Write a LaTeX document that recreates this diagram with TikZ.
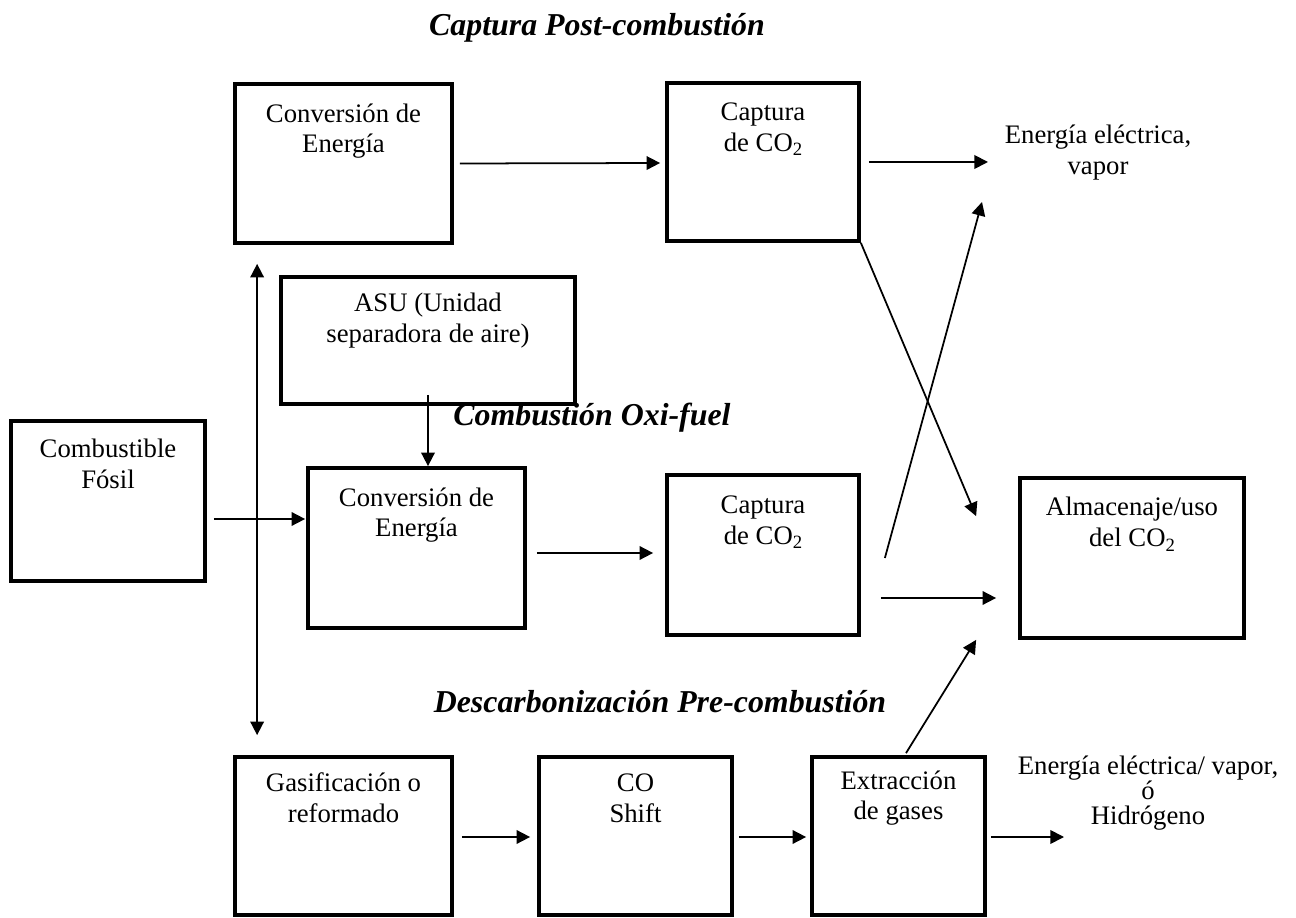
\documentclass[tikz,border=0pt]{standalone}
\usepackage{fontspec}
\setmainfont{Liberation Serif}
\usetikzlibrary{arrows.meta,positioning}
\newcommand{\subtwo}{\raisebox{-0.35ex}{\fontsize{8}{8}\selectfont 2}}

\begin{document}
\begin{tikzpicture}[x=0.015cm, y=-0.015cm, >={Triangle[length=5.8pt,width=5.8pt]},
  blk/.style={draw, line width=1.6pt, inner sep=0pt},
  txt/.style={align=center, font=\fontsize{11.4}{13.2}\selectfont},
  ttl/.style={font=\fontsize{13.6}{16}\selectfont\bfseries\itshape},
  flow/.style={->, line width=0.75pt}]
%%
  \useasboundingbox (0,0) rectangle (1296,918);
  \node (convTop) at (343.5,163.5) [blk, minimum width=3.255cm, minimum height=2.385cm] {};
  \node (capTop) at (763,162) [blk, minimum width=2.88cm, minimum height=2.37cm] {};
  \node (asu) at (428,340.5) [blk, minimum width=4.41cm, minimum height=1.905cm] {};
  \node (comb) at (108,501) [blk, minimum width=2.91cm, minimum height=2.4cm] {};
  \node (convMid) at (416.5,548) [blk, minimum width=3.255cm, minimum height=2.4cm] {};
  \node (capMid) at (763,555) [blk, minimum width=2.88cm, minimum height=2.4cm] {};
  \node (alm) at (1132,558) [blk, minimum width=3.36cm, minimum height=2.4cm] {};
  \node (gasif) at (343.5,836) [blk, minimum width=3.255cm, minimum height=2.37cm] {};
  \node (coShift) at (635.5,836) [blk, minimum width=2.895cm, minimum height=2.37cm] {};
  \node (extr) at (898.5,836) [blk, minimum width=2.595cm, minimum height=2.37cm] {};
  \node (convTopTxt) at ([shift={(0,49)}]convTop.north) [txt] {Conversión de\\Energía};
  \node (capTopTxt) at ([shift={(0,48)}]capTop.north) [txt] {Captura\\de CO\subtwo};
  \node (asuTxt) at ([shift={(0,45)}]asu.north) [txt] {ASU (Unidad\\separadora de aire)};
  \node (combTxt) at ([shift={(0,45)}]comb.north) [txt] {Combustible\\Fósil};
  \node (convMidTxt) at ([shift={(0,49)}]convMid.north) [txt] {Conversión de\\Energía};
  \node (capMidTxt) at ([shift={(0,49)}]capMid.north) [txt] {Captura\\de CO\subtwo};
  \node (almTxt) at ([shift={(0,48)}]alm.north) [txt] {Almacenaje/uso\\del CO\subtwo};
  \node (gasifTxt) at ([shift={(0,43)}]gasif.north) [txt] {Gasificación o\\reformado};
  \node (coShiftTxt) at ([shift={(0,43)}]coShift.north) [txt] {CO\\Shift};
  \node (extrTxt) at ([shift={(0,43)}]extr.north) [txt] {Extracción\\de gases};
  \node (out1) at (1098,153) [txt] {Energía eléctrica,\\vapor};
  \node (out2) at (1148,793) [txt, font=\fontsize{11.4}{10.8}\selectfont] {Energía eléctrica/ vapor,\\ó\\Hidrógeno};
  \coordinate (out1in) at (988,162);
  \coordinate (out2in) at (1064,837);
  \node (postTtl) at (597,28) [ttl] {Captura Post-combustión};
  \node (oxiTtl) at (592,418) [ttl] {Combustión Oxi-fuel};
  \node (preTtl) at (660,702) [ttl] {Descarbonización Pre-combustión};
  \draw [flow] ([shift={(6,0)}]convTop.east) -- ([shift={(-5,1)}]capTop.west);
  \draw [flow] ([shift={(8,0)}]capTop.east) -- (out1in);
  \draw [flow] (capTop.south east) -- ([shift={(-42,40)}]alm.north west);
  \draw [flow] ([shift={(24,3)}]capMid.east) -- ([shift={(-6,40)}]out1in);
  \draw [flow] ([shift={(20,43)}]capMid.east) -- ([shift={(-22,40)}]alm.west);
  \draw [flow] ([shift={(10,5)}]convMid.east) -- ([shift={(-12,-2)}]capMid.west);
  \draw [flow] ([shift={(7,18)}]comb.east) -- ([shift={(-1,-29)}]convMid.west);
  \draw [flow, <->] ([shift={(24,19)}]convTop.south west) -- ([shift={(24,-20)}]gasif.north west);
  \draw [flow] ([shift={(0,-11)}]asu.south) -- (asu.south |- convMid.north);
  \draw [flow] ([shift={(8,1)}]gasif.east) -- ([shift={(-7,1)}]coShift.west);
  \draw [flow] ([shift={(5,1)}]coShift.east) -- ([shift={(-4,1)}]extr.west);
  \draw [flow] ([shift={(4,1)}]extr.east) -- (out2in);
  \draw [flow] ([shift={(7.5,-2)}]extr.north) -- ([shift={(-42,0)}]alm.south west);
%
\end{tikzpicture}
\end{document}
